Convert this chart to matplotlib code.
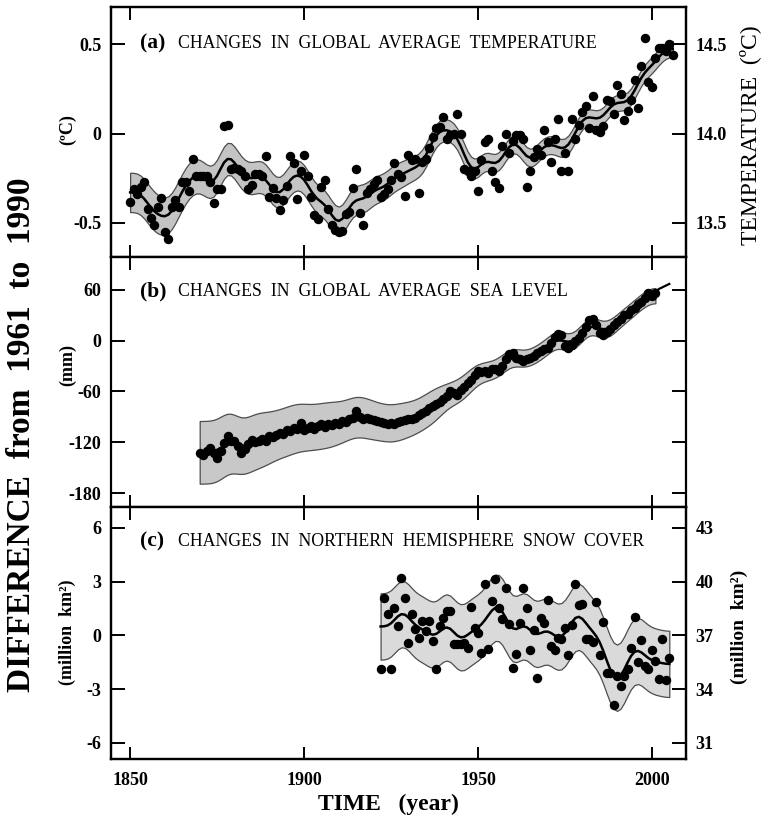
import numpy as np
import matplotlib
matplotlib.use("Agg")
import matplotlib.pyplot as plt

plt.rcParams['font.family'] = ['Liberation Serif', 'DejaVu Serif']
plt.rcParams['axes.linewidth'] = 1.6
plt.rcParams['axes.unicode_minus'] = False

# global temperature anomaly (deg C, relative to 1961-1990), one value per year
temp_years = np.arange(1850, 2007)
temp_anom = [
    -0.38, -0.31, -0.34, -0.30, -0.27, -0.42, -0.47, -0.51, -0.41, -0.36,
    -0.55, -0.59, -0.41, -0.37, -0.41, -0.27, -0.27, -0.32, -0.14, -0.235,
    -0.235, -0.24, -0.24, -0.27, -0.39, -0.31, -0.31, 0.04, 0.05, -0.20,
    -0.19, -0.20, -0.21, -0.235, -0.31, -0.29, -0.225, -0.225, -0.235, -0.127,
    -0.356, -0.305, -0.36, -0.43, -0.374, -0.296, -0.127, -0.166, -0.365, -0.212,
    -0.12, -0.24, -0.356, -0.454, -0.48, -0.30, -0.26, -0.42, -0.51, -0.54,
    -0.55, -0.545, -0.45, -0.44, -0.305, -0.20, -0.445, -0.51, -0.333, -0.31,
    -0.28, -0.26, -0.356, -0.337, -0.31, -0.26, -0.166, -0.225, -0.244, -0.35,
    -0.12, -0.15, -0.14, -0.33, -0.16, -0.14, -0.08, -0.02, 0.03, 0.035,
    0.09, -0.03, -0.01, 0.0, 0.11, 0.0, -0.20, -0.21, -0.235, -0.21,
    -0.32, -0.15, -0.05, -0.03, -0.21, -0.27, -0.305, -0.07, 0.0, -0.11,
    -0.04, -0.01, -0.01, -0.03, -0.30, -0.21, -0.13, -0.085, -0.12, 0.02,
    -0.05, -0.16, -0.03, 0.08, -0.21, -0.11, -0.21, 0.08, -0.03, 0.05,
    0.12, 0.156, 0.03, 0.207, 0.017, 0.007, 0.04, 0.19, 0.18, 0.11,
    0.27, 0.22, 0.076, 0.125, 0.19, 0.30, 0.14, 0.38, 0.534, 0.287,
    0.26, 0.42, 0.48, 0.48, 0.46, 0.50, 0.44,
]
# half width of the uncertainty band, per decade (1850s ... 2000s)
temp_band_decade = [0.11, 0.10, 0.09, 0.09, 0.085, 0.08, 0.08, 0.075,
                    0.065, 0.06, 0.05, 0.05, 0.05, 0.045, 0.045, 0.045]

# tide gauge sea level (mm), one value per year
sea_years = np.arange(1870, 2002)
sea_level = [
    -132.7, -134.6, -130, -126.8, -133, -138.6, -130, -121, -113, -118,
    -119, -125, -132.7, -128, -122, -117, -120, -118, -116, -118,
    -113, -114, -111, -109, -110, -106, -107, -103, -104, -97,
    -105, -103, -101, -104, -101, -99, -102, -98, -100, -97,
    -98, -95, -96, -93, -91, -83.5, -90, -92, -91, -93,
    -94, -95, -96, -97, -99, -97, -99, -96, -95, -94,
    -93, -92, -91, -88, -86, -83, -80, -77, -75, -72,
    -69, -65, -60, -62, -64, -58, -55, -50, -47, -41,
    -36, -37, -36, -38, -34, -33, -36, -30, -22, -16,
    -15, -20, -22, -24, -22, -21, -18, -15, -12, -10,
    -9, -3, 4, 8, 7, -6, -9, -5, 0, 3,
    9, 16, 24, 25, 18, 9, 7, 10, 14, 18,
    22, 26, 30, 31, 36, 39, 43, 46, 50, 56,
    53, 56,
]
sea_band_decade = [37, 33, 29, 27, 24, 22, 20, 14, 11, 10, 10, 10, 9, 9]

# satellite altimetry
sat_years = np.arange(1993, 2006)
sat_level = [33, 36, 39, 42, 46, 50, 53, 56, 58, 61, 63, 65, 67]

# NH snow cover anomaly (million km2)
snow_years = np.arange(1922, 2006)
snow_cover = [
    -1.86, 2.10, 1.17, -1.86, 1.55, 0.52, 3.22, 2.10,
    -0.44, 1.17, 0.38, -0.13, 0.80, 0.24, 0.80, -0.32, -1.90, 0.52,
    0.99, 1.36, 1.36, -0.50, -0.50, -0.50, -0.41, -0.69, 1.58, 0.43,
    0.15, -1.00, 2.85, -0.75, 1.92, 3.13, 1.55, 0.89, 2.66, 0.61,
    -1.81, -1.06, 0.71, 2.66, 1.55, -0.82, 0.30, -2.40, 0.99, 0.70,
    1.97, -0.60, -0.82, -0.13, -0.19, 0.40, -1.12, 0.58, 2.85, 1.68,
    1.73, -0.19, -0.22, -0.37, 1.86, -1.12, 0.74, -2.09, -2.09, -3.91,
    -2.27, -2.83, -2.27, -1.86, -0.69, 1.04, -1.49, -0.28, -1.68, -1.86,
    -0.80, -1.43, -2.46, -0.19, -2.51, -1.25,
]
snow_band = 1.85

# 13 point decadal filter
filt = np.array([1, 6, 19, 42, 71, 96, 106, 96, 71, 42, 19, 6, 1]) / 576.0


def smooth(v):
    v = np.asarray(v, dtype=float)
    p = np.pad(v, 6, mode='reflect')
    return np.convolve(p, filt, mode='valid')


def band(decades, n):
    hw = np.repeat(np.asarray(decades, dtype=float), 10)[:n]
    p = np.pad(hw, 6, mode='edge')
    return np.convolve(p, filt, mode='valid')


fig = plt.figure(figsize=(7.61, 8.22), dpi=100)
L, W = 111 / 761, 575 / 761
ax_a = fig.add_axes([L, 1 - 257 / 822, W, 250 / 822])
ax_b = fig.add_axes([L, 1 - 507 / 822, W, 250 / 822])
ax_c = fig.add_axes([L, 1 - 759 / 822, W, 252 / 822])

dot = dict(marker='o', linestyle='none', color='black', markersize=5.8, zorder=4)
edge = '#4d4d4d'

# (a) temperature
ts = smooth(temp_anom)
tb = band(temp_band_decade, len(temp_anom))
ax_a.fill_between(temp_years, ts - tb, ts + tb, facecolor='#c4c4c4',
                  edgecolor=edge, linewidth=0.9, zorder=2)
ax_a.plot(temp_years, ts, color='black', linewidth=1.8, zorder=3)
ax_a.plot(temp_years, temp_anom, **dot)
ax_a.set_ylim(-0.69, 0.707)
ax_a.set_yticks([-0.5, 0, 0.5])
ax_a.set_yticklabels(['-0.5', '0', '0.5'])

# (b) sea level
ss = smooth(sea_level)
sb = band(sea_band_decade, len(sea_level))
ax_b.fill_between(sea_years, ss - sb, ss + sb, facecolor='#c8c8c8',
                  edgecolor=edge, linewidth=0.9, zorder=2)
ax_b.plot(sea_years, ss, color='black', linewidth=1.8, zorder=3)
ax_b.plot(sea_years, sea_level, **dot)
ax_b.plot(sat_years, sat_level, color='black', linewidth=1.6, zorder=5)
ax_b.set_ylim(-196.5, 98.8)
ax_b.set_yticks([-180, -120, -60, 0, 60])
ax_b.set_yticklabels(['-180', '-120', '-60', '0', '60'])

# (c) snow cover
cs = smooth(snow_cover)
ax_c.fill_between(snow_years, cs - snow_band, cs + snow_band, facecolor='#dadada',
                  edgecolor=edge, linewidth=0.9, zorder=2)
ax_c.plot(snow_years, cs, color='black', linewidth=1.8, zorder=3)
ax_c.plot(snow_years, snow_cover, **dot)
ax_c.set_ylim(-6.9, 7.17)
ax_c.set_yticks([-6, -3, 0, 3, 6])
ax_c.set_yticklabels(['-6', '-3', '0', '3', '6'])

for ax in (ax_a, ax_b, ax_c):
    ax.set_xlim(1844.5, 2009.8)
    ax.set_xticks([1850, 1900, 1950, 2000])
    ax.tick_params(axis='x', direction='in', length=9, width=1.4, top=True,
                   labelsize=13, pad=9)
    ax.tick_params(axis='y', direction='in', length=10, width=1.4,
                   labelsize=13, pad=7)
    for lab in ax.get_yticklabels():
        lab.set_fontweight('bold')
ax_a.tick_params(labelbottom=False)
ax_b.tick_params(labelbottom=False, right=True)
for lab in ax_c.get_xticklabels():
    lab.set_fontweight('bold')

# right hand absolute scales
tw_a = ax_a.twinx()
tw_a.set_ylim(-0.69 + 14.0, 0.707 + 14.0)
tw_a.set_yticks([13.5, 14.0, 14.5])
tw_a.set_yticklabels(['13.5', '14.0', '14.5'])
tw_c = ax_c.twinx()
tw_c.set_ylim(-6.9 + 37, 7.17 + 37)
tw_c.set_yticks([31, 34, 37, 40, 43])
for tw in (tw_a, tw_c):
    tw.tick_params(axis='y', direction='in', length=10, width=1.4,
                   labelsize=13, pad=7)
    for lab in tw.get_yticklabels():
        lab.set_fontweight('bold')

# panel titles
titles = [(ax_a, '(a)', 'CHANGES  IN  GLOBAL  AVERAGE  TEMPERATURE', 0.856),
          (ax_b, '(b)', 'CHANGES  IN  GLOBAL  AVERAGE  SEA  LEVEL', 0.864),
          (ax_c, '(c)', 'CHANGES  IN  NORTHERN  HEMISPHERE  SNOW  COVER', 0.865)]
for ax, tag, txt, yy in titles:
    ax.text(0.050, yy, tag, transform=ax.transAxes, ha='left', va='center',
            fontsize=15.5, fontweight='bold')
    ax.text(0.1165, yy, txt, transform=ax.transAxes, ha='left', va='center',
            fontsize=12.8)

# axis labels
fig.text(0.028, 0.471, 'DIFFERENCE  from  1961  to  1990', rotation=90,
         ha='center', va='center', fontsize=24, fontweight='bold')
fig.text(0.51, 0.021, 'TIME   (year)', ha='center', va='center',
         fontsize=17, fontweight='bold')
fig.text(0.089, 1 - 130 / 822, '(ºC)', rotation=90, ha='center', va='center',
         fontsize=13, fontweight='bold')
fig.text(0.089, 1 - 365 / 822, '(mm)', rotation=90, ha='center', va='center',
         fontsize=13, fontweight='bold')
fig.text(0.089, 1 - 632 / 822, '(million  km²)', rotation=90, ha='center',
         va='center', fontsize=13, fontweight='bold')
fig.text(0.985, 1 - 135 / 822, 'TEMPERATURE  (ºC)', rotation=90, ha='center',
         va='center', fontsize=17)
fig.text(0.972, 1 - 627 / 822, '(million  km²)', rotation=90, ha='center',
         va='center', fontsize=14, fontweight='bold')

fig.savefig('out.png', dpi=100)
